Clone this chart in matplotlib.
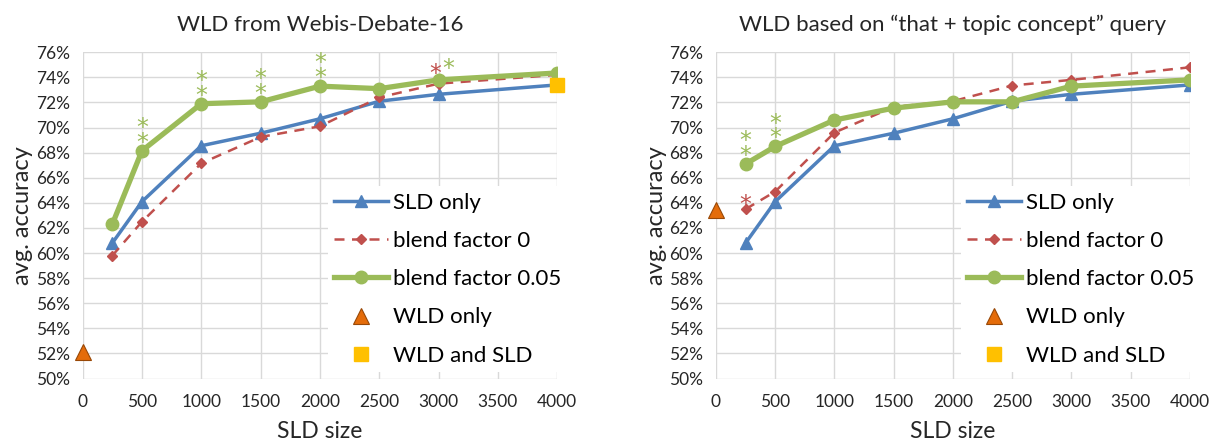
import numpy as np
import matplotlib
matplotlib.use("Agg")
import matplotlib.pyplot as plt
from matplotlib.ticker import FuncFormatter

plt.rcParams['font.family'] = ['Lato', 'DejaVu Sans']

# ==========================
# Data
# ==========================
sld_sizes = [250, 500, 1000, 1500, 2000, 2500, 3000, 4000]

left_title = "WLD from Webis-Debate-16"
left_sld_only = [60.8, 64.1, 68.55, 69.55, 70.7, 72.1, 72.65, 73.4]
left_blend0 = [59.8, 62.5, 67.15, 69.25, 70.1, 72.4, 73.5, 74.2]
left_blend005 = [62.3, 68.15, 71.9, 72.05, 73.3, 73.1, 73.8, 74.35]
left_wld_only = 52.1
left_wld_sld = 73.4
# number of significance stars per x (blend 0.05 / blend 0)
left_stars_green = {500: 2, 1000: 2, 1500: 2, 2000: 2, 3000: 1}
left_stars_red = {3000: 1}

right_title = "WLD based on \u201cthat + topic concept\u201d query"
right_sld_only = [60.8, 64.1, 68.55, 69.55, 70.7, 72.1, 72.65, 73.4]
right_blend0 = [63.5, 64.9, 69.6, 71.65, 72.1, 73.35, 73.8, 74.8]
right_blend005 = [67.1, 68.5, 70.6, 71.55, 72.05, 72.05, 73.3, 73.8]
right_wld_only = 63.45
right_wld_sld = 63.9
right_stars_green = {250: 2, 500: 2}
right_stars_red = {250: 1}

blue = "#4f81bd"
red = "#c0504d"
green = "#9bbb59"
orange = "#e46c0a"
yellow = "#ffc000"
grid_gray = "#d9d9d9"
text_col = "#262626"


def star(ax, xv, yv, n, color, dx, dy):
    ax.annotate("\n".join(["*"] * n), (xv, yv), xytext=(dx, dy),
                textcoords="offset pixels", ha="center", va="baseline",
                color=color, fontsize=17, family="DejaVu Sans",
                linespacing=0.52, zorder=6)


def draw_panel(ax, title, sld_only, blend0, blend005, wld_only, wld_sld,
               stars_green, stars_red):
    ax.plot(sld_sizes, sld_only, color=blue, lw=2.5, marker="^",
            ms=8, label="SLD only", zorder=3)
    ax.plot(sld_sizes, blend0, color=red, lw=1.8, ls=(0, (4, 3)),
            marker="D", ms=5, label="blend factor 0", zorder=3)
    ax.plot(sld_sizes, blend005, color=green, lw=3.8, marker="o",
            ms=9, label="blend factor 0.05", zorder=4)
    ax.plot([0], [wld_only], ls="none", marker="^", ms=11,
            color=orange, mec="#984807", mew=0.8, label="WLD only",
            zorder=5, clip_on=False)
    ax.plot([4000], [wld_sld], ls="none", marker="s", ms=10,
            color=yellow, label="WLD and SLD", zorder=5, clip_on=False)

    # significance stars
    for xv, n in stars_red.items():
        yv = blend0[sld_sizes.index(xv)]
        if xv == 250:
            star(ax, xv, yv, n, red, 0, -3)
        else:
            star(ax, xv, yv, n, red, -3, 3)
    for xv, n in stars_green.items():
        yv = blend005[sld_sizes.index(xv)]
        if n == 1:
            star(ax, xv, yv, n, green, 10, 4)
        else:
            star(ax, xv, yv, n, green, 0, 1)

    ax.set_xlim(0, 4000)
    ax.set_ylim(50, 76)
    ax.set_xticks(np.arange(0, 4001, 500))
    ax.set_yticks(np.arange(50, 77, 2))
    ax.yaxis.set_major_formatter(FuncFormatter(lambda v, p: f"{v:.0f}%"))
    ax.tick_params(axis="x", length=0, labelsize=12.5, colors=text_col, pad=11)
    ax.tick_params(axis="y", length=0, labelsize=12.5, colors=text_col, pad=9)
    ax.grid(True, color=grid_gray, lw=1)
    ax.set_axisbelow(True)
    for s in ax.spines.values():
        s.set_visible(False)
    ax.set_title(title, fontsize=16, pad=15, color=text_col)
    ax.set_xlabel("SLD size", fontsize=16.5, color=text_col, labelpad=8)
    ax.set_ylabel("avg. accuracy", fontsize=17, color=text_col, labelpad=2)

    leg = ax.legend(loc="upper left", bbox_to_anchor=(0.516, 0.59),
                    borderaxespad=0, fontsize=16, frameon=True,
                    fancybox=False, framealpha=1, edgecolor="none",
                    facecolor="white", handlelength=2.4, labelspacing=0.82,
                    borderpad=0.3, handletextpad=0.25)
    leg.set_zorder(10)


fig = plt.figure(figsize=(12.1, 4.41), dpi=100)
ax1 = fig.add_axes([0.0683, 0.1415, 0.3922, 0.740])
ax2 = fig.add_axes([0.5917, 0.1415, 0.3917, 0.740])

draw_panel(ax1, left_title, left_sld_only, left_blend0, left_blend005,
           left_wld_only, left_wld_sld, left_stars_green, left_stars_red)
draw_panel(ax2, right_title, right_sld_only, right_blend0, right_blend005,
           right_wld_only, right_wld_sld, right_stars_green, right_stars_red)

fig.savefig("out.png", dpi=100)
plt.close(fig)
